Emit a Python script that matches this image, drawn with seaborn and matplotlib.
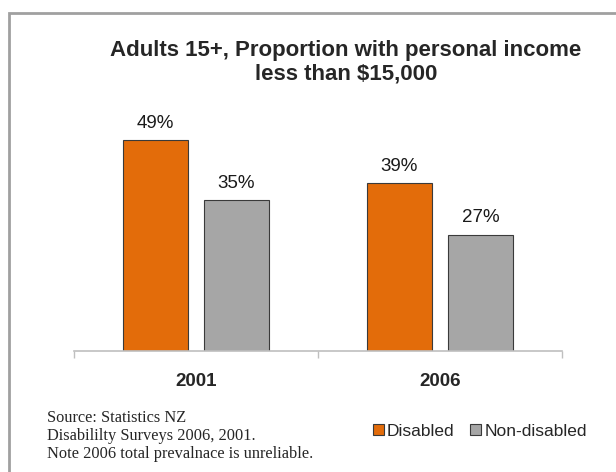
import matplotlib
matplotlib.use("Agg")
import matplotlib.pyplot as plt
from matplotlib.patches import Rectangle
import seaborn as sns
import pandas as pd

# data
years = ["2001", "2006"]
groups = ["Disabled", "Non-disabled"]
disabled = [49, 39]
non_disabled = [35, 27]

df = pd.DataFrame({
    "year": years * 2,
    "group": [groups[0]] * 2 + [groups[1]] * 2,
    "pct": disabled + non_disabled,
})

sns.set_style("white")
plt.rcParams["font.family"] = ["Liberation Sans", "DejaVu Sans"]

fig = plt.figure(figsize=(6.16, 4.72), dpi=100)
ax = fig.add_axes([74 / 616, 121 / 472, 488 / 616, 237 / 472])

sns.barplot(data=df, x="year", y="pct", hue="group", order=years, hue_order=groups,
            palette=["#E36C0A", "#A6A6A6"], saturation=1, width=0.664, gap=0.2,
            edgecolor="#3a3a3a", linewidth=0.8, ax=ax)

for c in ax.containers:
    ax.bar_label(c, fmt="%d%%", padding=6, fontsize=13.5, color="#1a1a1a")

ax.set_ylim(0, 55)
ax.set_xlim(-0.5, 1.5)
ax.set_yticks([])
ax.set_xlabel("")
ax.set_ylabel("")
for s in ["top", "right", "left"]:
    ax.spines[s].set_visible(False)
ax.spines["bottom"].set_color("#bfbfbf")
ax.spines["bottom"].set_linewidth(1.2)

ax.set_xticks([0, 1])
ax.set_xticklabels(years, fontsize=13.5, fontweight="bold")
ax.tick_params(axis="x", which="major", length=0, pad=16)
ax.set_xticks([-0.5, 0.5, 1.5], minor=True)
ax.tick_params(axis="x", which="minor", bottom=True, length=5, width=1,
               color="#bfbfbf", direction="out")

sns.move_legend(ax, "center", bbox_to_anchor=(480 / 616, 1 - 431 / 472),
                bbox_transform=fig.transFigure, ncol=2, frameon=False, title=None,
                fontsize=12.5, handlelength=0.6, handleheight=0.6,
                handletextpad=0.2, columnspacing=0.9)

fig.text(346 / 616, 1 - 62 / 472, "Adults 15+, Proportion with personal income\nless than $15,000",
         ha="center", va="center", fontsize=16, fontweight="bold", linespacing=1.15)

fig.text(47 / 616, 1 - 436 / 472,
         "Source: Statistics NZ\nDisabililty Surveys 2006, 2001.\nNote 2006 total prevalnace is unreliable.",
         ha="left", va="center", fontsize=11.8, family=["Liberation Serif", "DejaVu Serif"],
         linespacing=1.15)

fig.patches.append(Rectangle((8.5 / 616, -0.05), 1.2, 1 - 12.5 / 472 + 0.05,
                             transform=fig.transFigure, fill=False,
                             edgecolor="#a0a0a0", linewidth=2))

fig.savefig("out.png", dpi=100)
